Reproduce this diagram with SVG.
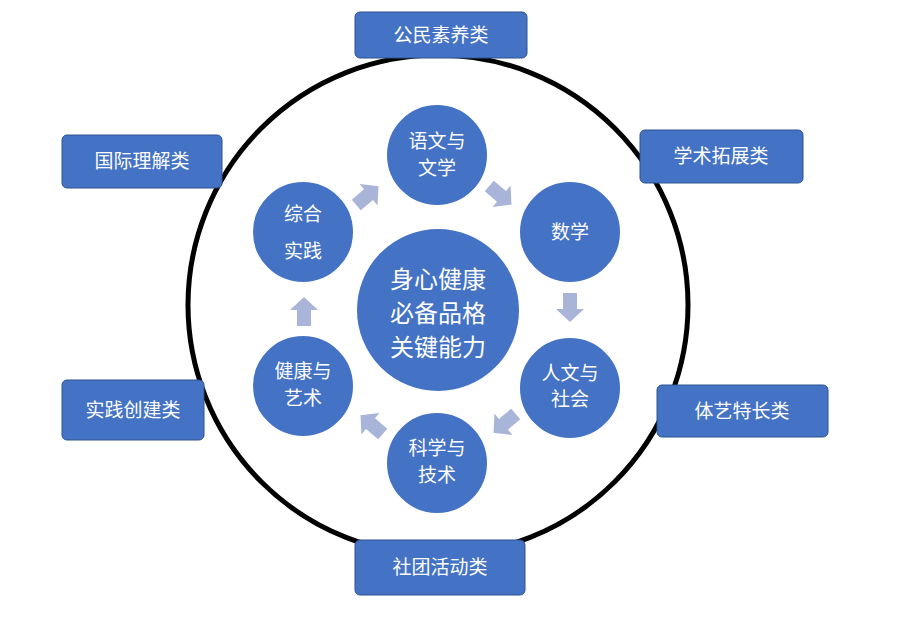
<svg xmlns="http://www.w3.org/2000/svg" width="900" height="625" viewBox="0 0 900 625">
<style>
.c{fill:#4472C4;stroke:#fff;stroke-width:2}
.b{fill:#4472C4;stroke:#2F528F;stroke-width:1}
.t{fill:#fff;font-family:"Noto Sans CJK SC",sans-serif;text-anchor:middle}
.s{font-size:19px}.m{font-size:24px}
.a{fill:#A9B4D9}
</style>
<defs><path id="ar" d="M-14,-7 H2 V-14 L15,0 L2,14 V7 H-14 Z"/></defs>
<rect width="900" height="625" fill="#fff"/>
<circle cx="438" cy="305" r="250" fill="none" stroke="#000" stroke-width="5"/>
<g id="connectors" class="a">
<use href="#ar" transform="translate(367,196) rotate(-40)"/>
<use href="#ar" transform="translate(500,195) rotate(40)"/>
<use href="#ar" transform="translate(570,307) rotate(90)"/>
<use href="#ar" transform="translate(505,423) rotate(140)"/>
<use href="#ar" transform="translate(372,425) rotate(-140)"/>
<use href="#ar" transform="translate(304,312) rotate(-90)"/>
</g>
<g id="center"><circle class="c" cx="438" cy="310" r="82"/>
<text class="t m" x="438" y="288">身心健康</text><text class="t m" x="438" y="322">必备品格</text><text class="t m" x="438" y="356">关键能力</text></g>
<g id="yuwen"><circle class="c" cx="437" cy="155" r="51"/><text class="t s" x="437" y="148">语文与</text><text class="t s" x="437" y="175">文学</text></g>
<g id="shuxue"><circle class="c" cx="570" cy="232" r="51"/><text class="t s" x="570" y="239">数学</text></g>
<g id="renwen"><circle class="c" cx="570" cy="388" r="51"/><text class="t s" x="570" y="380">人文与</text><text class="t s" x="570" y="406">社会</text></g>
<g id="kexue"><circle class="c" cx="437" cy="463" r="51"/><text class="t s" x="437" y="455">科学与</text><text class="t s" x="437" y="482">技术</text></g>
<g id="jiankang"><circle class="c" cx="303" cy="386" r="51"/><text class="t s" x="303" y="378">健康与</text><text class="t s" x="303" y="405">艺术</text></g>
<g id="zonghe"><circle class="c" cx="303" cy="232" r="51"/><text class="t s" x="303" y="221">综合</text><text class="t s" x="303" y="258">实践</text></g>
<g id="b1"><rect class="b" x="355" y="12" width="172" height="46" rx="5"/><text class="t s" x="441" y="42">公民素养类</text></g>
<g id="b2"><rect class="b" x="640" y="130" width="163" height="53" rx="5"/><text class="t s" x="721" y="163">学术拓展类</text></g>
<g id="b3"><rect class="b" x="657" y="385" width="171" height="52" rx="5"/><text class="t s" x="742" y="418">体艺特长类</text></g>
<g id="b4"><rect class="b" x="355" y="540" width="170" height="55" rx="5"/><text class="t s" x="440" y="574">社团活动类</text></g>
<g id="b5"><rect class="b" x="62" y="380" width="142" height="60" rx="5"/><text class="t s" x="133" y="417">实践创建类</text></g>
<g id="b6"><rect class="b" x="62" y="135" width="160" height="53" rx="5"/><text class="t s" x="142" y="168">国际理解类</text></g>
</svg>
